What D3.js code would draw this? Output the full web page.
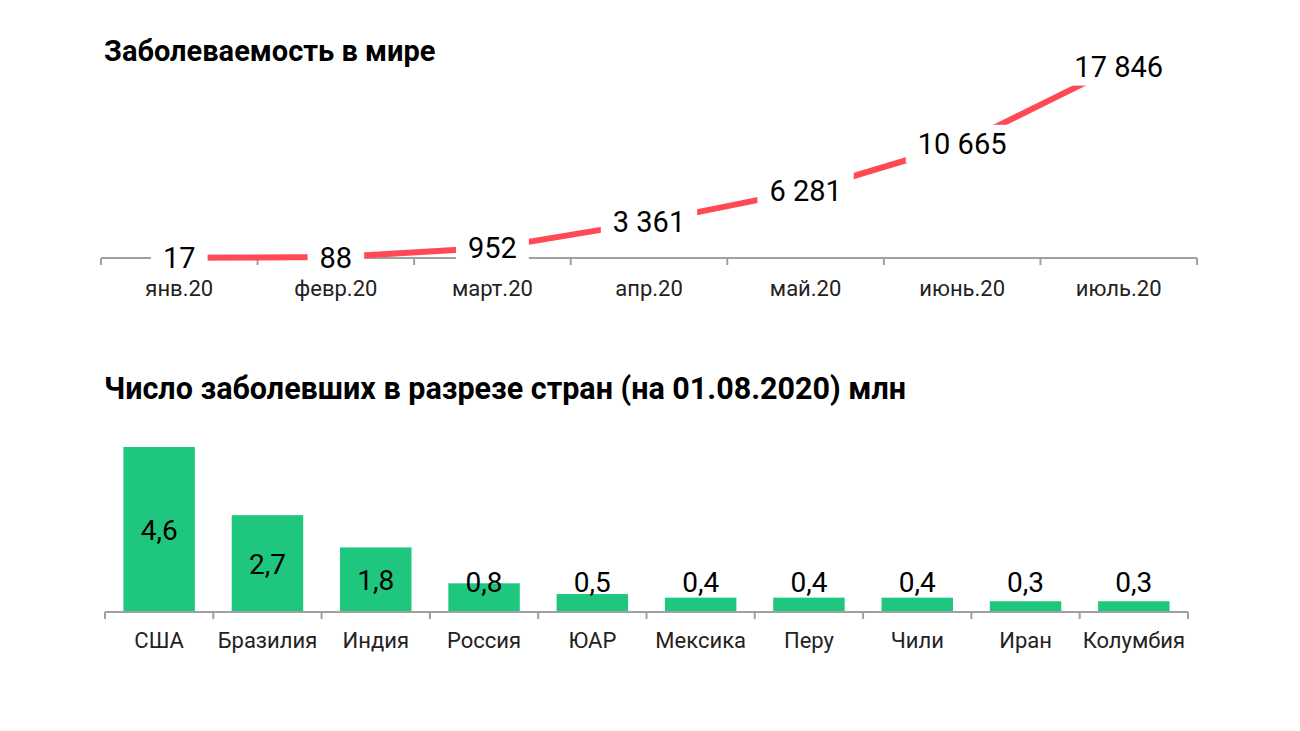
<!DOCTYPE html>
<html>
<head>
<meta charset="utf-8">
<script src="https://cdn.jsdelivr.net/npm/d3@7"></script>
<style>
  body { margin: 0; background: #fff; }
  svg { font-family: Roboto, "Noto Sans", sans-serif; }
</style>
</head>
<body>
<div id="chart"></div>
<script>
// monthly cases in the world, thousands
var months = ["янв.20", "февр.20", "март.20", "апр.20", "май.20", "июнь.20", "июль.20"];
var worldCases = [17, 88, 952, 3361, 6281, 10665, 17846];

// cases by country, mln
var countries = ["США", "Бразилия", "Индия", "Россия", "ЮАР", "Мексика", "Перу", "Чили", "Иран", "Колумбия"];
var countryCases = [4.6, 2.7, 1.8, 0.8, 0.5, 0.4, 0.4, 0.4, 0.3, 0.3];

var width = 1300, height = 731;
var axisColor = "#a0a0a0";

var svg = d3.select("#chart")
  .append("svg")
  .attr("width", width)
  .attr("height", height);

var fmtSpace = function (v) {
  return d3.format(",")(v).replace(/,/g, " ");
};
var fmtComma = function (v) {
  return d3.format(".1f")(v).replace(".", ",");
};

/* ---------- top: line chart ---------- */
svg.append("text")
  .attr("x", 104)
  .attr("y", 61)
  .attr("font-size", 29)
  .attr("font-weight", "bold")
  .attr("fill", "#000")
  .text("Заболеваемость в мире");

var x1 = d3.scaleBand().domain(months).range([101, 1197]);
var y1 = d3.scaleLinear().domain([0, 20000]).range([258, 43]);

var lineG = svg.append("g");

var xAxis1 = lineG.append("g")
  .attr("transform", `translate(0,${y1(0)})`)
  .call(d3.axisBottom(x1).tickSize(0).tickPadding(22));
xAxis1.select(".domain").attr("stroke", axisColor).attr("stroke-width", 2)
  .attr("d", `M${x1.range()[0]},0H${x1.range()[1]}`);
xAxis1.selectAll("text").attr("font-size", 22).attr("fill", "#222")
  .attr("font-family", "Roboto, sans-serif");

// band boundary ticks
lineG.append("g").selectAll("line")
  .data(months.concat(["end"]))
  .join("line")
  .attr("x1", (d, i) => i < months.length ? x1(d) : x1.range()[1])
  .attr("x2", (d, i) => i < months.length ? x1(d) : x1.range()[1])
  .attr("y1", y1(0))
  .attr("y2", y1(0) + 7)
  .attr("stroke", axisColor)
  .attr("stroke-width", 2);

var line = d3.line()
  .x((d, i) => x1(months[i]) + x1.bandwidth() / 2)
  .y((d) => y1(d));

lineG.append("path")
  .datum(worldCases)
  .attr("d", line)
  .attr("fill", "none")
  .attr("stroke", "#ff4a55")
  .attr("stroke-width", 6);

var lbl1 = lineG.append("g").selectAll("g")
  .data(worldCases)
  .join("g")
  .attr("transform", (d, i) => `translate(${x1(months[i]) + x1.bandwidth() / 2},${y1(d)})`);

lbl1.append("text")
  .attr("text-anchor", "middle")
  .attr("dy", "0.36em")
  .attr("font-size", 29)
  .attr("fill", "#000")
  .text((d) => fmtSpace(d));

lbl1.insert("rect", "text")
  .each(function () {
    var bb = this.parentNode.querySelector("text").getBBox();
    d3.select(this)
      .attr("x", bb.x - 12)
      .attr("y", bb.y - 2)
      .attr("width", bb.width + 24)
      .attr("height", bb.height + 4);
  })
  .attr("fill", "#fff");

/* ---------- bottom: bar chart ---------- */
svg.append("text")
  .attr("x", 104)
  .attr("y", 399)
  .attr("font-size", 30.5)
  .attr("font-weight", "bold")
  .attr("fill", "#000")
  .text("Число заболевших в разрезе стран (на 01.08.2020) млн");

var x2 = d3.scaleBand().domain(countries).range([105, 1188]).paddingInner(0.34).paddingOuter(0.17);
var y2 = d3.scaleLinear().domain([0, 4.6]).range([612, 447]);

var barG = svg.append("g");

barG.selectAll("rect")
  .data(countryCases)
  .join("rect")
  .attr("x", (d, i) => x2(countries[i]))
  .attr("y", (d) => y2(d))
  .attr("width", x2.bandwidth())
  .attr("height", (d) => y2(0) - y2(d))
  .attr("fill", "#1fc77e");

var xAxis2 = barG.append("g")
  .attr("transform", `translate(0,${y2(0)})`)
  .call(d3.axisBottom(x2).tickSize(0).tickPadding(20));
xAxis2.select(".domain").attr("stroke", axisColor).attr("stroke-width", 2)
  .attr("d", `M${x2.range()[0]},0H${x2.range()[1]}`);
xAxis2.selectAll("text").attr("font-size", 22).attr("fill", "#222")
  .attr("font-family", "Roboto, sans-serif");

barG.append("g").selectAll("line")
  .data(d3.range(countries.length + 1))
  .join("line")
  .attr("x1", (i) => x2.range()[0] + i * (x2.range()[1] - x2.range()[0]) / countries.length)
  .attr("x2", (i) => x2.range()[0] + i * (x2.range()[1] - x2.range()[0]) / countries.length)
  .attr("y1", y2(0))
  .attr("y2", y2(0) + 7)
  .attr("stroke", axisColor)
  .attr("stroke-width", 2);

barG.append("g").selectAll("text")
  .data(countryCases)
  .join("text")
  .attr("x", (d, i) => x2(countries[i]) + x2.bandwidth() / 2)
  .attr("y", (d) => Math.min((y2(d) + y2(0)) / 2, y2(0) - 30))
  .attr("dy", "0.36em")
  .attr("text-anchor", "middle")
  .attr("font-size", 28)
  .attr("fill", "#000")
  .text((d) => fmtComma(d));
</script>
</body>
</html>
